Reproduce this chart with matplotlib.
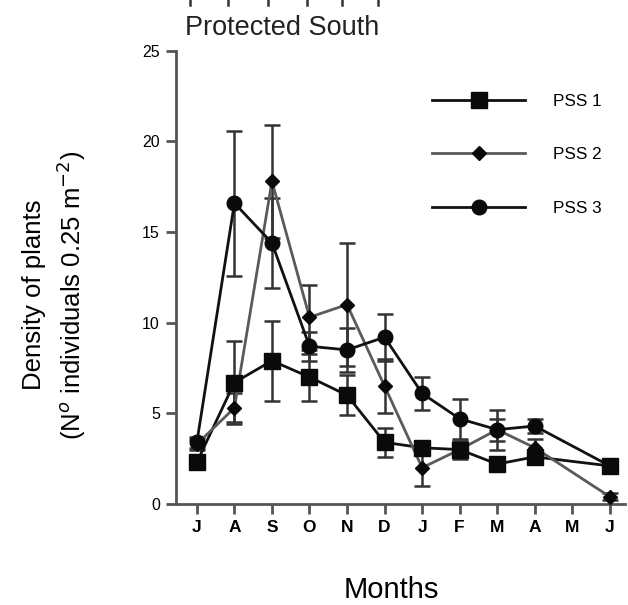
import numpy as np
import matplotlib

matplotlib.use("Agg")
import matplotlib.pyplot as plt
from matplotlib.lines import Line2D

plt.rcParams["font.family"] = ["Liberation Sans", "DejaVu Sans"]

# data (M of the second year has no sample)
months = ["J", "A", "S", "O", "N", "D", "J", "F", "M", "A", "M", "J"]
pss1 = [2.3, 6.7, 7.9, 7.0, 6.0, 3.4, 3.1, 3.0, 2.2, 2.6, np.nan, 2.1]
pss1_err = [0.3, 2.3, 2.2, 1.3, 1.1, 0.8, 0.3, 0.4, 0.3, 0.4, np.nan, 0.2]
pss2 = [3.3, 5.3, 17.8, 10.3, 11.0, 6.5, 2.0, 3.0, 4.1, 3.1, np.nan, 0.4]
pss2_err = [0.3, 0.8, 3.1, 1.8, 3.4, 1.5, 1.0, 0.5, 1.1, 0.5, np.nan, 0.2]
pss3 = [3.4, 16.6, 14.4, 8.7, 8.5, 9.2, 6.1, 4.7, 4.1, 4.3, np.nan, 2.1]
pss3_err = [0.3, 4.0, 2.5, 0.8, 1.2, 1.3, 0.9, 1.1, 0.6, 0.4, np.nan, 0.2]
yticks = [0, 5, 10, 15, 20, 25]

fig = plt.figure(figsize=(6.28, 6.05), dpi=100)
ax = fig.add_axes([0.280, 0.167, 0.715, 0.749])

x = np.arange(len(months))
series = [
    ("PSS 1", pss1, pss1_err, "s", 11, "#111111"),
    ("PSS 2", pss2, pss2_err, "D", 7, "#5a5a5a"),
    ("PSS 3", pss3, pss3_err, "o", 10.5, "#111111"),
]
handles = []
for name, vals, errs, mk, ms, lc in series:
    v = np.array(vals)
    e = np.array(errs)
    ok = ~np.isnan(v)
    ax.errorbar(x[ok], v[ok], yerr=e[ok], fmt="none", ecolor="#333333",
                elinewidth=1.8, capsize=6, capthick=1.8, zorder=2)
    ax.plot(x[ok], v[ok], color=lc, lw=2.0, zorder=3)
    ax.plot(x[ok], v[ok], ls="none", marker=mk, ms=ms, color="#0a0a0a", zorder=4)
    handles.append(Line2D([0], [0], color=lc, lw=2.0, marker=mk, ms=ms,
                          markerfacecolor="#0a0a0a", markeredgecolor="#0a0a0a"))

ax.legend(handles, [s[0] for s in series], loc="upper left",
          bbox_to_anchor=(0.571, 0.905), borderaxespad=0, borderpad=0,
          frameon=False, fontsize=12.3, handlelength=5.45,
          labelspacing=2.25, handletextpad=1.6)

ax.set_xlim(-0.56, 11.4)
ax.set_ylim(0, 25)
ax.set_xticks(x)
ax.set_xticklabels(months)
ax.set_yticks(yticks)
ax.set_yticklabels([str(t) for t in yticks], fontsize=11.5)
for lab in ax.get_xticklabels():
    lab.set_fontsize(12.5)
    lab.set_fontweight("bold")

for side in ["top", "right"]:
    ax.spines[side].set_visible(False)
for side in ["left", "bottom"]:
    ax.spines[side].set_linewidth(2.0)
    ax.spines[side].set_color("#555555")
ax.tick_params(axis="both", length=7.5, width=2.0, color="#555555", pad=4)

ax.set_xlabel("Months", fontsize=21)
ax.xaxis.set_label_coords(0.479, -0.159)
ax.set_ylabel("Density of plants\n(N$^{o}$ individuals 0.25 m$^{-2}$)",
              fontsize=18.5, linespacing=1.35)
ax.yaxis.set_label_coords(-0.195, 0.461)

fig.text(0.295, 0.954, "Protected South", fontsize=19.5,
         color="#222222", va="center", ha="left")

# tick marks of the panel above, cut off at the top edge
for px in [190, 228, 268, 307, 342, 378]:
    fig.add_artist(Line2D([px / 628, px / 628], [1.0, 0.992], color="#333333", lw=1.8))

fig.savefig("out.png", dpi=100)
